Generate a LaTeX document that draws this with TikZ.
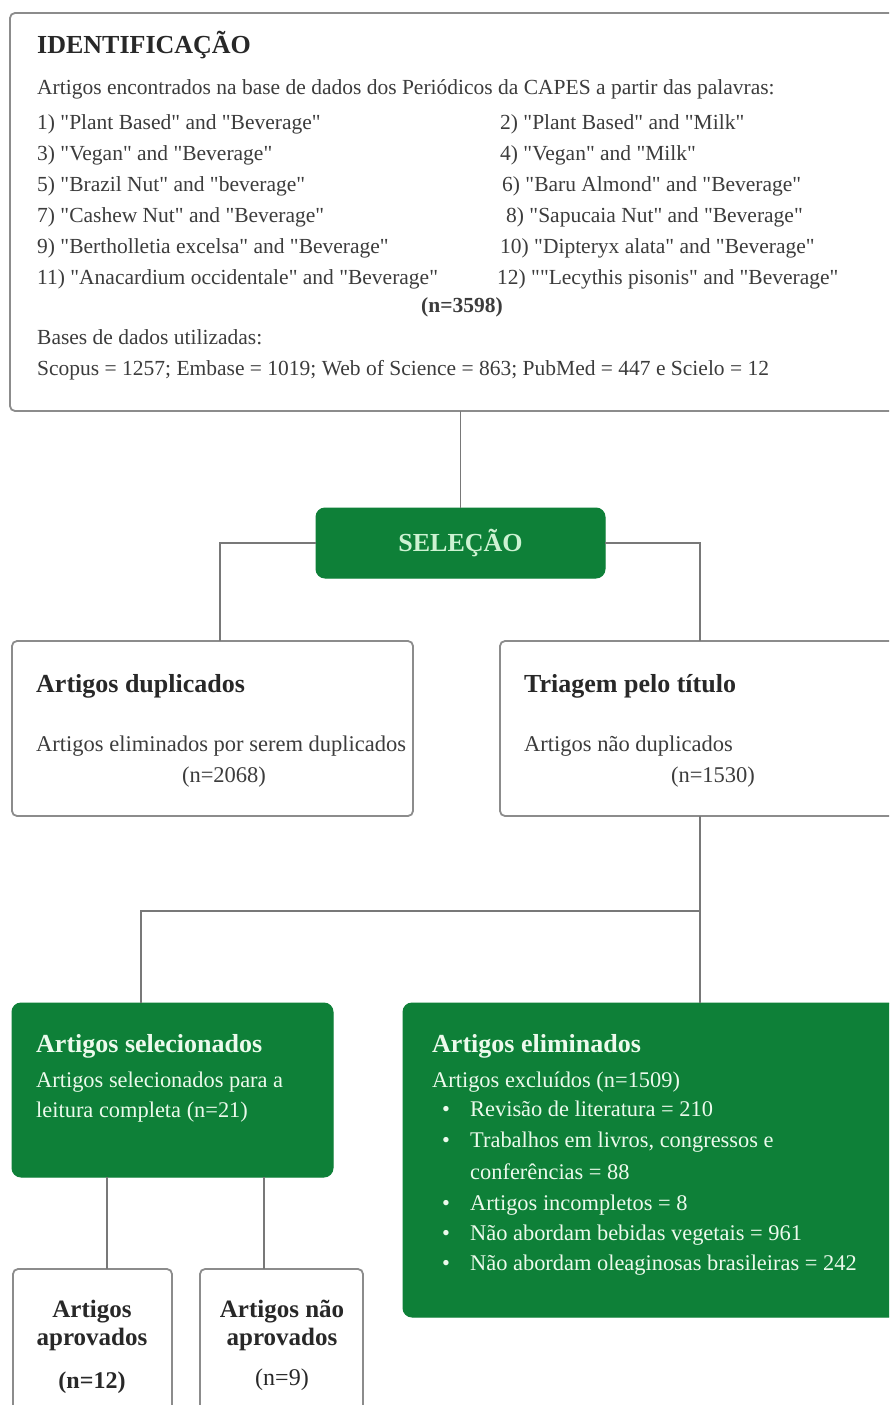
\documentclass[tikz,border=0pt]{standalone}
\usepackage{fontspec}
\setmainfont{Liberation Serif}[Ligatures=TeXOff]
\usetikzlibrary{calc}
\definecolor{grn}{RGB}{14,128,56}
\definecolor{boxgray}{RGB}{140,140,140}
\definecolor{linegray}{RGB}{120,120,120}
\definecolor{txt}{RGB}{60,60,60}
\definecolor{ttl}{RGB}{40,40,40}
\definecolor{gtxt}{RGB}{236,250,236}
\definecolor{seltxt}{RGB}{205,242,210}
\begin{document}
\begin{tikzpicture}[x=1pt,y=-1pt,
  graybox/.style={draw=boxgray,line width=1.8pt,rounded corners=5pt,fill=white,inner sep=0pt,outer sep=0pt},
  greenbox/.style={fill=grn,draw=grn,line width=1pt,rounded corners=9pt,inner sep=0pt,outer sep=0pt},
  conn/.style={draw=linegray,line width=1.8pt},
  body/.style={anchor=base west,inner sep=0pt,text=txt,font=\fontsize{21.5}{26}\selectfont},
  midtxt/.style={anchor=base west,inner sep=0pt,text=txt,font=\fontsize{22.5}{27}\selectfont},
  title/.style={anchor=base west,inner sep=0pt,text=ttl,font=\fontsize{26}{31}\selectfont\bfseries},
  gtitle/.style={anchor=base west,inner sep=0pt,text=gtxt,font=\fontsize{26}{31}\selectfont\bfseries},
  gbody/.style={anchor=base west,inner sep=0pt,text=gtxt,font=\fontsize{22.4}{27}\selectfont},
  ctitle/.style={anchor=base,inner sep=0pt,text=ttl,font=\fontsize{25}{30}\selectfont\bfseries},
]
\useasboundingbox (0,0) rectangle (889,1405);
\fill[white] (0,0) rectangle (889,1405);
\clip (0,0) rectangle (889,1405);

% boxes
\node[graybox,minimum width=895pt,minimum height=398pt] (top) at (457.5,212) {};
\node[greenbox,minimum width=289pt,minimum height=70pt] (sel) at (460.5,543) {};
\node[graybox,minimum width=401pt,minimum height=175pt] (lm) at (212.5,728.5) {};
\node[graybox,minimum width=405pt,minimum height=175pt] (rm) at (702.5,728.5) {};
\node[greenbox,minimum width=321pt,minimum height=174pt] (gl) at (172.5,1090) {};
\node[greenbox,minimum width=502pt,minimum height=314pt] (gr) at (654,1160) {};
\node[graybox,minimum width=159pt,minimum height=151pt] (bl) at (92.5,1344.5) {};
\node[graybox,minimum width=163pt,minimum height=151pt] (br) at (281.5,1344.5) {};

% connectors
\draw[conn] (sel.north |- top.south) -- (sel.north);
\coordinate (m1) at ([xshift=7.5pt]lm.north);
\coordinate (m2) at ([xshift=-2.5pt]rm.north);
\draw[conn] (sel.west) -| (m1);
\draw[conn] (sel.east) -| (m2);
\coordinate (g2) at ([xshift=46pt]gr.north);
\coordinate (g1) at ([xshift=-31.5pt]gl.north);
\coordinate (j) at (700,911);
\draw[conn] (g2 |- rm.south) -- (g2);
\draw[conn] (j) -| (g1);
\coordinate (b1) at ([xshift=14.5pt]bl.north);
\coordinate (b2) at ([xshift=-17.5pt]br.north);
\draw[conn] (b1 |- gl.south) -- (b1);
\draw[conn] (b2 |- gl.south) -- (b2);

% top box text
\node[title] (t0) at (37,54) {IDENTIFICAÇÃO};
\node[body] (t1) at (37,95) {Artigos encontrados na base de dados dos Periódicos da CAPES a partir das palavras:};
\node[body] (k1) at (37,129) {1) "Plant Based" and "Beverage"};
\node[body] (k2) at (500,129) {2) "Plant Based" and "Milk"};
\node[body] (k3) at (37,160) {3) "Vegan" and "Beverage"};
\node[body] (k4) at (500,160) {4) "Vegan" and "Milk"};
\node[body] (k5) at (37,191) {5) "Brazil Nut" and "beverage"};
\node[body] (k6) at (502,191) {6) "Baru Almond" and "Beverage"};
\node[body] (k7) at (37,222) {7) "Cashew Nut" and "Beverage"};
\node[body] (k8) at (506,222) {8) "Sapucaia Nut" and "Beverage"};
\node[body] (k9) at (37,253) {9) "Bertholletia excelsa" and "Beverage"};
\node[body] (k10) at (500,253) {10) "Dipteryx alata" and "Beverage"};
\node[body] (k11) at (37,284) {11) "Anacardium occidentale" and "Beverage"};
\node[body] (k12) at (497,284) {12) ""Lecythis pisonis" and "Beverage"};
\node[body,anchor=base,font=\fontsize{21.5}{26}\selectfont\bfseries] (n0) at (462,312) {(n=3598)};
\node[body] (t2) at (37,344) {Bases de dados utilizadas:};
\node[body] (t3) at (37,375) {Scopus = 1257; Embase = 1019; Web of Science = 863; PubMed = 447 e Scielo = 12};

% selecao
\node[inner sep=0pt,text=seltxt,font=\fontsize{26}{31}\selectfont\bfseries] (selt) at (sel.center) {SELEÇÃO};

% middle boxes
\node[title] (lmt) at (36,692) {Artigos duplicados};
\node[midtxt] (lm1) at (36,751) {Artigos eliminados por serem duplicados};
\node[midtxt,anchor=base] (lm2) at (224,782) {(n=2068)};
\node[title] (rmt) at (524,692) {Triagem pelo título};
\node[midtxt] (rm1) at (524,751) {Artigos não duplicados};
\node[midtxt,anchor=base] (rm2) at (713,782) {(n=1530)};

% green left
\node[gtitle] (glt) at (36,1052) {Artigos selecionados};
\node[gbody] (gl1) at (36,1087) {Artigos selecionados para a};
\node[gbody] (gl2) at (36,1117) {leitura completa (n=21)};

% green right
\node[gtitle] (grt) at (432,1052) {Artigos eliminados};
\node[gbody] (gr0) at (432,1087) {Artigos excluídos (n=1509)};
\node[gbody] (d1) at (442,1116) {•};
\node[gbody] (e1) at (470,1116) {Revisão de literatura = 210};
\node[gbody] (d2) at (442,1147) {•};
\node[gbody] (e2) at (470,1147) {Trabalhos em livros, congressos e};
\node[gbody] (e2b) at (470,1179) {conferências = 88};
\node[gbody] (d3) at (442,1210) {•};
\node[gbody] (e3) at (470,1210) {Artigos incompletos = 8};
\node[gbody] (d4) at (442,1240) {•};
\node[gbody] (e4) at (470,1240) {Não abordam bebidas vegetais = 961};
\node[gbody] (d5) at (442,1270) {•};
\node[gbody] (e5) at (470,1270) {Não abordam oleaginosas brasileiras = 242};

% bottom boxes
\node[ctitle] (bl1) at (92,1317) {Artigos};
\node[ctitle] (bl2) at (92,1345) {aprovados};
\node[ctitle,font=\fontsize{24}{29}\selectfont\bfseries] (bl3) at (92,1388) {(n=12)};
\node[ctitle] (br1) at (282,1317) {Artigos não};
\node[ctitle] (br2) at (282,1345) {aprovados};
\node[ctitle,font=\fontsize{24}{29}\selectfont] (br3) at (282,1385) {(n=9)};
\end{tikzpicture}
\end{document}
